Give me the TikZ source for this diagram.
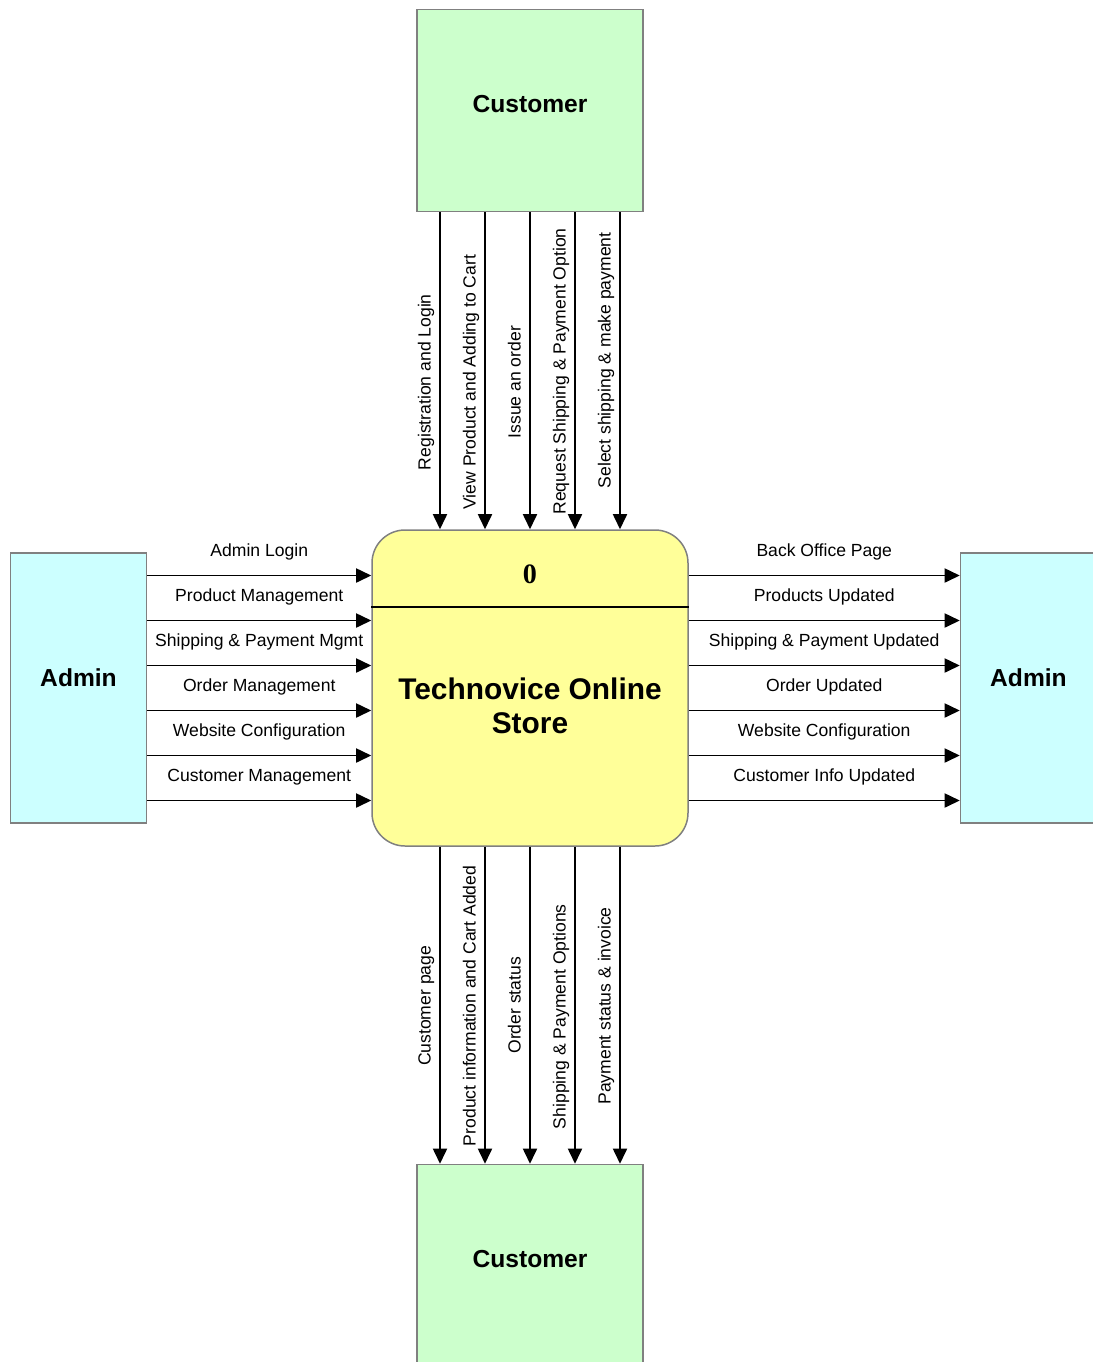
\documentclass[tikz,border=0pt]{standalone}
\usepackage{fontspec}
\setmainfont{Liberation Sans}
\newfontfamily\procnumfont{Liberation Serif}
\usetikzlibrary{arrows.meta,positioning}
\definecolor{dfdCustGreen}{HTML}{CCFFCC}
\definecolor{dfdAdminCyan}{HTML}{CCFFFF}
\definecolor{dfdProcYellow}{HTML}{FFFF99}
\definecolor{dfdBorderGray}{HTML}{808080}

\begin{document}
\begin{tikzpicture}[
  entity/.style={
    draw=dfdBorderGray,
    line width=0.85pt,
    text depth=0.25cm,
    align=center,
    font=\fontsize{14}{16}\selectfont\bfseries
  },
  process/.style={
    draw=dfdBorderGray,
    line width=0.85pt,
    fill=dfdProcYellow,
    rounded corners=0.66cm,
    minimum width=6.32cm,
    minimum height=6.32cm
  },
  flow/.style={-{Triangle[length=8.6pt,width=8pt]}, line width=1pt},
  flowlabel/.style={anchor=base, inner sep=0pt, font=\fontsize{10}{12}\selectfont}
]
  \path[use as bounding box, clip] (0,0) rectangle (21.86,-27.24);

  \node[process] (proc) at (10.6,-13.76) {};
  \node[font=\procnumfont\fontsize{16}{18}\selectfont\bfseries] (procnum) at ([yshift=-0.9cm]proc.north) {0};
  \draw[line width=0.9pt] ([yshift=-1.56cm]proc.north west) -- ([yshift=-1.56cm]proc.north east);
  \node[align=center, font=\fontsize{17}{19.4}\selectfont\bfseries] (proctitle) at ([yshift=-0.36cm]proc.center) {Technovice Online\\Store};

  \node[entity,fill=dfdCustGreen,minimum width=4.52cm,minimum height=4.04cm,above=6.34cm of proc] (custIn) {Customer};
  \node[entity,fill=dfdCustGreen,minimum width=4.52cm,minimum height=4.04cm,below=6.34cm of proc] (custOut) {Customer};
  \node[entity,fill=dfdAdminCyan,text depth=0.42cm,minimum width=2.72cm,minimum height=5.4cm,left=4.48cm of proc] (adminIn) {Admin};
  \node[entity,fill=dfdAdminCyan,text depth=0.42cm,minimum width=2.72cm,minimum height=5.4cm,right=5.42cm of proc] (adminOut) {Admin};

  % customer -> process
  \foreach \dx/\pp/\txt in {-1.8/0.536/Registration and Login,
                            -0.9/0.536/View Product and Adding to Cart,
                            0/0.536/Issue an order,
                            0.9/0.502/Request Shipping \& Payment Option,
                            1.8/0.467/Select shipping \& make payment}
    \draw[flow] ([xshift=\dx cm]custIn.south) -- node[flowlabel,pos=\pp,xshift=-0.19cm,rotate=90] {\txt} ([xshift=\dx cm]proc.north);

  % process -> customer
  \foreach \dx/\pp/\txt in {-1.8/0.502/Customer page,
                            -0.9/0.502/Product information and Cart Added,
                            0/0.5/Order status,
                            0.9/0.536/Shipping \& Payment Options,
                            1.8/0.502/Payment status \& invoice}
    \draw[flow] ([xshift=\dx cm]proc.south) -- node[flowlabel,pos=\pp,xshift=-0.19cm,rotate=90] {\txt} ([xshift=\dx cm]custOut.north);

  % admin -> process
  \foreach \dy/\txt in {2.25/Admin Login,
                        1.35/Product Management,
                        0.45/Shipping \& Payment Mgmt,
                        -0.45/Order Management,
                        -1.35/Website Configuration,
                        -2.25/Customer Management}
    \draw[flow] ([yshift=\dy cm]adminIn.east) -- node[flowlabel,yshift=0.38cm] {\txt} ([yshift=\dy cm]proc.west);

  % process -> admin
  \foreach \dy/\txt in {2.25/Back Office Page,
                        1.35/Products Updated,
                        0.45/Shipping \& Payment Updated,
                        -0.45/Order Updated,
                        -1.35/Website Configuration,
                        -2.25/Customer Info Updated}
    \draw[flow] ([yshift=\dy cm]proc.east) -- node[flowlabel,yshift=0.38cm] {\txt} ([yshift=\dy cm]adminOut.west);
\end{tikzpicture}
\end{document}
